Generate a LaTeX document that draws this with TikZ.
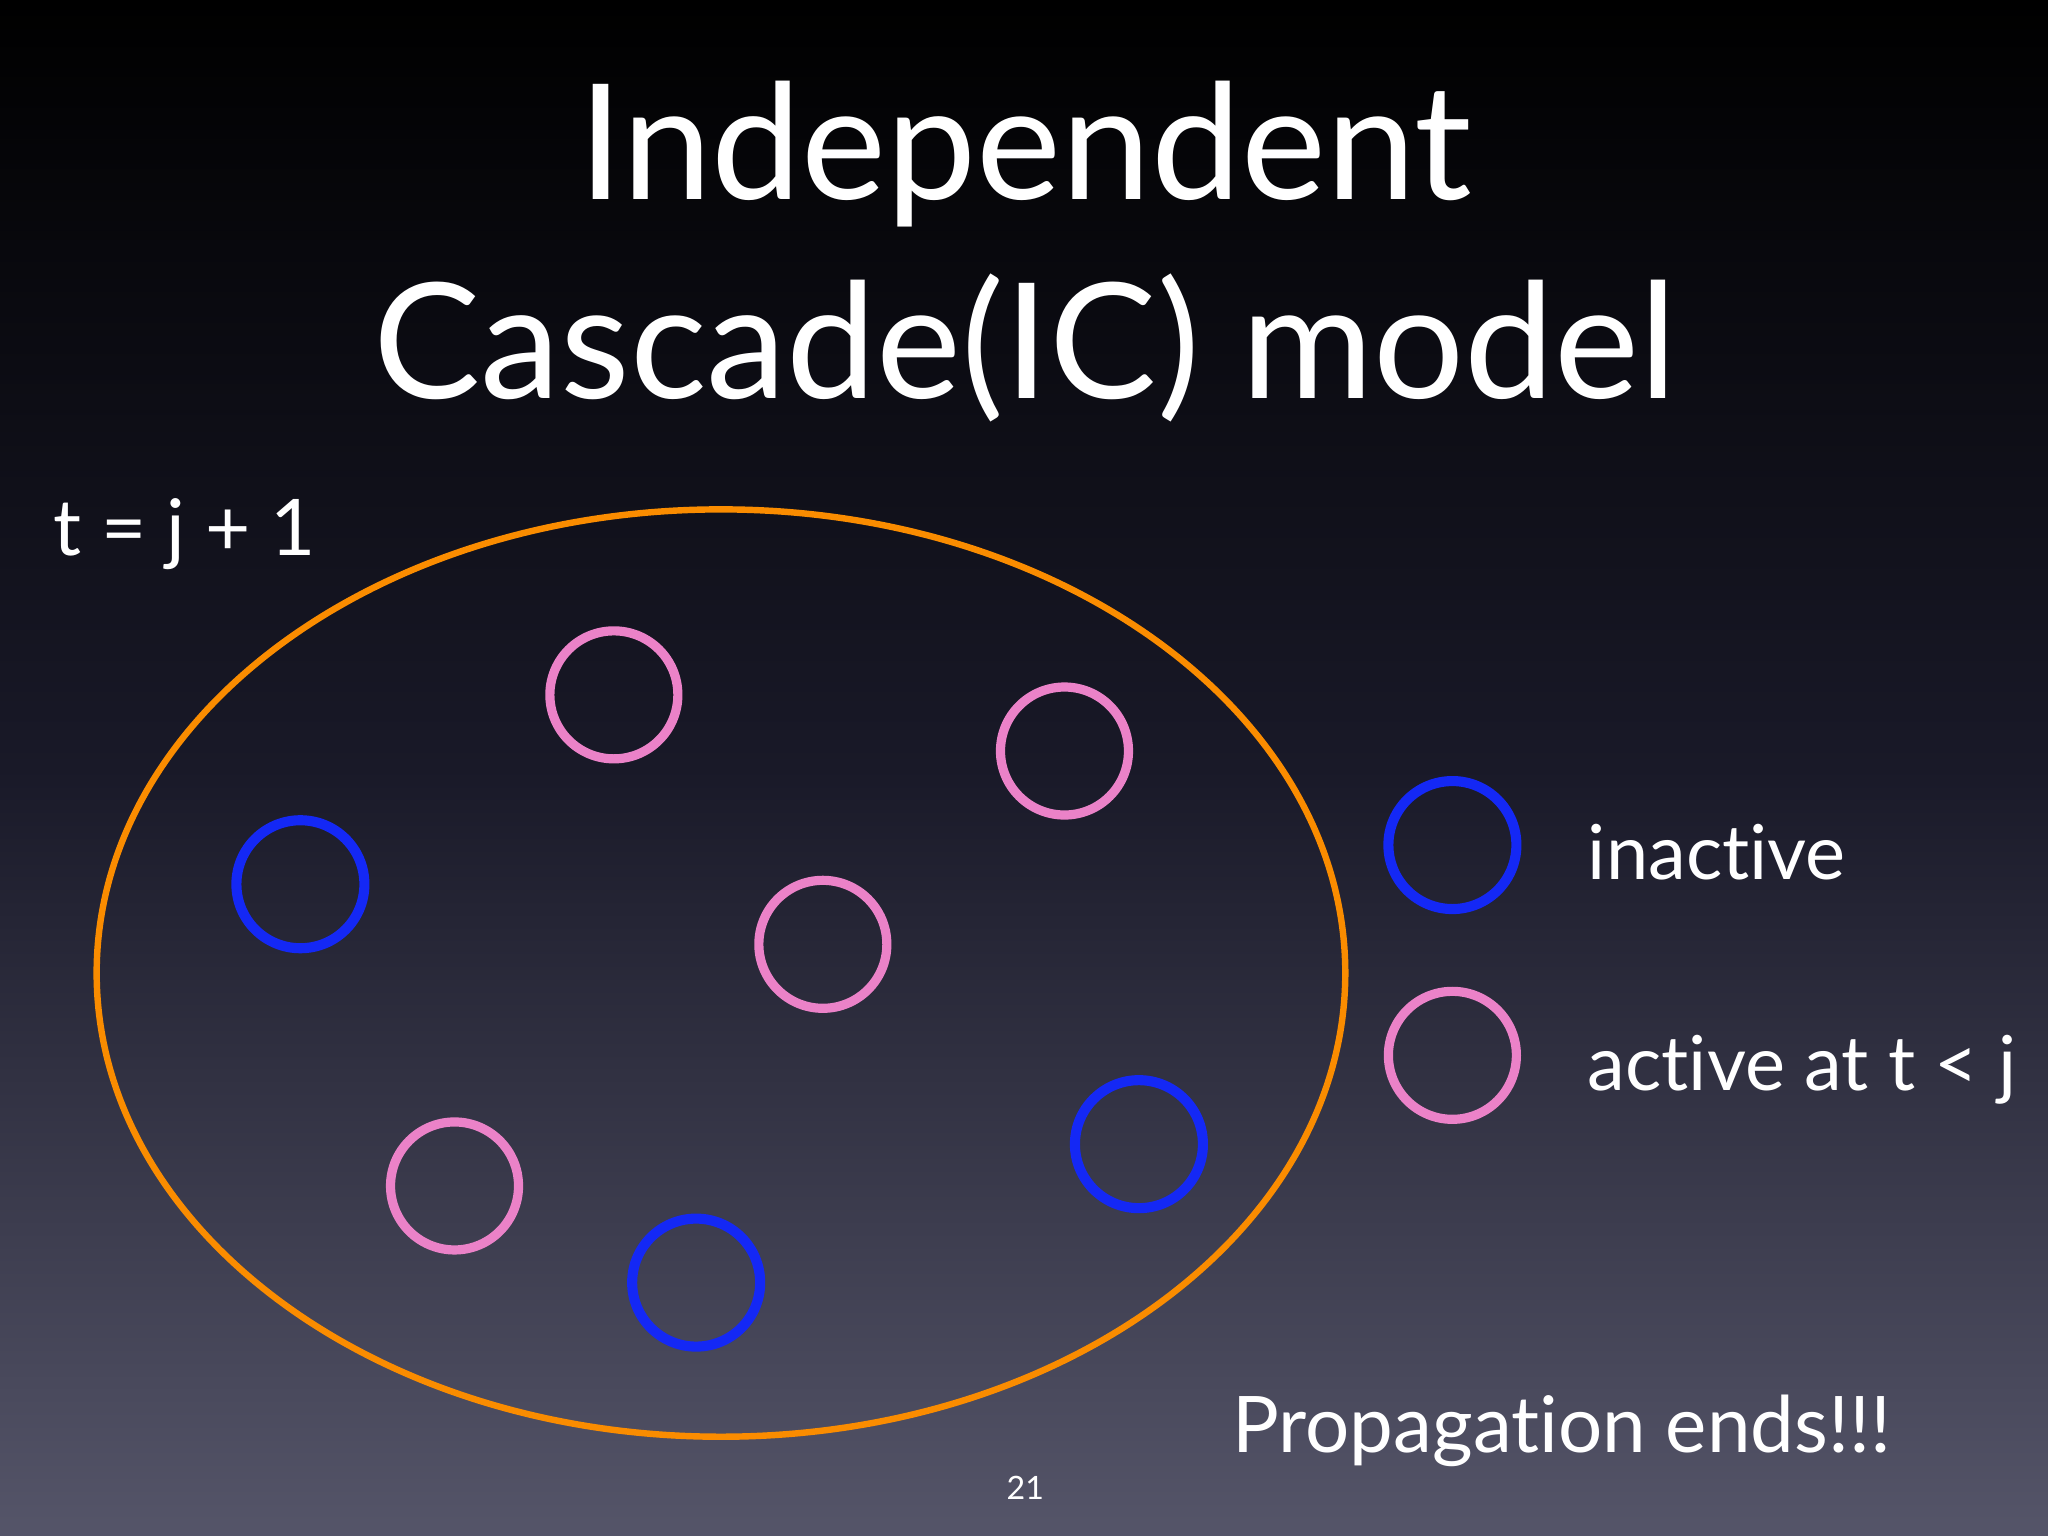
\documentclass[tikz,border=0pt]{standalone}
\usepackage{fontspec}
\setmainfont[Ligatures=NoCommon]{Lato}
\definecolor{bgbot}{RGB}{85,85,105}
\definecolor{bgmid}{RGB}{25,25,40}
\definecolor{pinkcol}{RGB}{235,130,200}
\definecolor{bluecol}{RGB}{20,40,245}
\definecolor{orangecol}{RGB}{250,140,0}
\begin{document}
\begin{tikzpicture}[x=0.01cm,y=-0.01cm,
  pinkc/.style={draw=pinkcol,line width=2pt},
  bluec/.style={draw=bluecol,line width=2.2pt},
  lbl/.style={text=white,anchor=base west,inner sep=0pt}]
\shade[top color=black,bottom color=bgbot,middle color=bgmid] (0,0) rectangle (1568,1176);
\useasboundingbox (0,0) rectangle (1568,1176);
\node[text=white,font=\fontsize{35}{40}\selectfont,anchor=base] (t1) at (785,153) {Independent};
\node[text=white,font=\fontsize{35}{40}\selectfont,anchor=base] (t2) at (785,305) {Cascade(IC) model};
\node[lbl,font=\fontsize{17}{20}\selectfont] (tj) at (40,425) {t = j + 1};
\draw[draw=orangecol,line width=1.4pt] (552,745) ellipse [x radius=478,y radius=355];
\draw[pinkc] (470,532) circle (49);
\draw[pinkc] (815,575) circle (49);
\draw[pinkc] (630,723) circle (49);
\draw[pinkc] (348,908) circle (49);
\draw[bluec] (230,677) circle (49);
\draw[bluec] (872,876) circle (49);
\draw[bluec] (533,982) circle (49);
\draw[bluec] (1112,647) circle (49);
\draw[pinkc] (1112,808) circle (49);
\node[lbl,font=\fontsize{16.5}{20}\selectfont] (in) at (1215,673) {inactive};
\node[lbl,font=\fontsize{16.5}{20}\selectfont] (ac) at (1215,835) {active at t < j};
\node[lbl,font=\fontsize{17}{20}\selectfont] (pe) at (943,1112) {Propagation ends!!!};
\node[text=white,font=\fontsize{7}{8}\selectfont,anchor=base] (pg) at (785,1148) {21};
\end{tikzpicture}
\end{document}
